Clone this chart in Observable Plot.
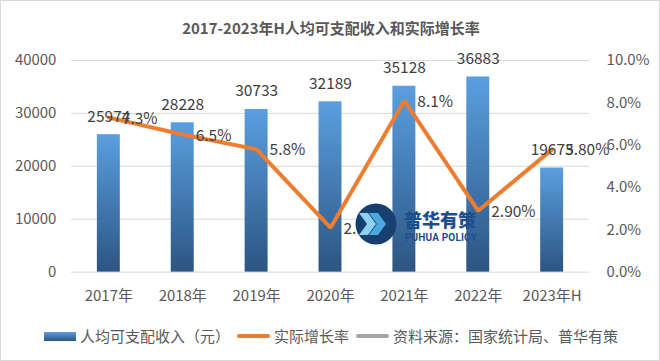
<!DOCTYPE html>
<html><head><meta charset="utf-8">
<script src="https://cdn.jsdelivr.net/npm/d3@7"></script>
<script src="https://cdn.jsdelivr.net/npm/@observablehq/plot@0.6"></script>
<style>
html,body{margin:0;padding:0;background:#fff;}
#wrap{position:relative;width:660px;height:361px;box-sizing:border-box;border:1px solid #D9D9D9;overflow:hidden;font-family:"Noto Sans CJK SC","Noto Sans",sans-serif;}
#title{position:absolute;left:0;top:17px;width:660px;text-align:center;font-size:15px;font-weight:bold;color:#595959;line-height:20px;}
#chart{position:absolute;left:-1px;top:44px;}
#legend{position:absolute;left:43px;top:324px;display:flex;align-items:center;font-size:15px;color:#595959;line-height:22px;white-space:nowrap;}
#legend .sw{display:inline-block;margin-right:4px;}
#legend .item{display:flex;align-items:center;margin-right:7px;}
#wm{position:absolute;left:0;top:0;pointer-events:none;}
</style></head>
<body><div id="wrap">
<div id="title">2017-2023年H人均可支配收入和实际增长率</div>
<div id="chart"></div>
<div id="legend"></div>
</div>
<script>
const years = ["2017年","2018年","2019年","2020年","2021年","2022年","2023年H"];
const income = [25974,28228,30733,32189,35128,36883,19673];
const rate = [7.3,6.5,5.8,2.1,8.1,2.9,5.8];
const rateLabels = ["7.3%","6.5%","5.8%","2.1%","8.1%","2.90%","5.80%"];
const incomeTicks = [0,10000,20000,30000,40000];
const rateTicks = [0,2,4,6,8,10];
const seriesNames = ["人均可支配收入（元）","实际增长率","资料来源：国家统计局、普华有策"];
const seriesColors = ["#3F78B4","#ED7D31","#A5A5A5"];

const k = 40000 / 10; // right-axis percent -> left-axis units
const data = years.map((y,i)=>({year:y, income:income[i], rate:rate[i], rl:rateLabels[i], ry:rate[i]*k}));
const font = '"Noto Sans CJK SC","Noto Sans",sans-serif';

const svg = Plot.plot({
  width:660, height:272,
  marginTop:15, marginBottom:45, marginLeft:71, marginRight:70,
  style:{fontFamily:font, fontSize:"15px", color:"#595959", background:"transparent", overflow:"visible"},
  x:{domain:years, paddingInner:0.69, paddingOuter:0.345, label:null},
  y:{domain:[0,40000], label:null},
  marks:[
    Plot.gridY(incomeTicks,{stroke:"#D9D9D9", strokeOpacity:1, strokeWidth:1}),
    Plot.axisY(incomeTicks,{anchor:"left", tickSize:0, tickPadding:15, label:null, tickFormat:d=>String(d), fill:"#595959"}),
    Plot.axisY(rateTicks.map(r=>r*k),{anchor:"right", tickSize:0, tickPadding:17, label:null, tickFormat:d=>(d/k).toFixed(1)+"%", fill:"#595959"}),
    Plot.axisX({tickSize:0, tickPadding:18, label:null, fill:"#595959"}),
    Plot.barY(data,{x:"year", y:"income", fill:"url(#barGrad)"}),
    Plot.line(data,{x:"year", y:"ry", stroke:"#ED7D31", strokeWidth:4, strokeLinejoin:"miter"}),
    Plot.text(data,{x:"year", y:"income", text:d=>String(d.income), dy:-18, fill:"#404040", fontSize:15.5}),
    Plot.text(data,{x:"year", y:"ry", text:"rl", textAnchor:"start", dx:13, dy:1, fill:"#404040", fontSize:15.5})
  ]
});
const defs = d3.select(svg).insert("defs",":first-child");
const g = defs.append("linearGradient").attr("id","barGrad").attr("x1",0).attr("y1",0).attr("x2",0).attr("y2",1);
g.append("stop").attr("offset","0%").attr("stop-color","#5A9FE0");
g.append("stop").attr("offset","100%").attr("stop-color","#2C5582");
document.getElementById("chart").appendChild(svg);

// legend
const lg = document.getElementById("legend");
seriesNames.forEach((n,i)=>{
  const it = document.createElement("div"); it.className="item";
  const sw = document.createElement("span"); sw.className="sw";
  if(i===0){ sw.style.cssText="width:32px;height:9px;background:linear-gradient(#5A9FE0,#2C5582);"; }
  else { sw.style.cssText=`width:33px;height:4px;border-radius:2px;background:${seriesColors[i]};`; }
  it.appendChild(sw);
  const t=document.createElement("span"); t.textContent=n; it.appendChild(t);
  lg.appendChild(it);
});

// watermark (decoration)
const wm = d3.select("#wrap").append("svg").attr("id","wm").attr("width",660).attr("height",361);
wm.append("circle").attr("cx",375).attr("cy",223).attr("r",20.5).attr("fill","#17406F");
[[-9,"#8FD0F2"],[1,"#4BA8E0"]].forEach(([dx,c])=>{
  wm.append("path").attr("d",`M${372+dx-5},212 L${372+dx+4},212 L${372+dx+12},223 L${372+dx+4},234 L${372+dx-5},234 L${372+dx+3},223 Z`).attr("fill",c);
});
wm.append("text").attr("x",403).attr("y",226).attr("font-size",18).attr("font-weight",900).attr("fill","#1E4F8D").attr("font-family",font).text("普华有策");
wm.append("text").attr("x",404).attr("y",240).attr("font-size",10).attr("font-weight",700).attr("fill","#1E4F8D").attr("font-family","Roboto,Arial,sans-serif").attr("textLength",72).text("PUHUA POLICY");
</script>
</body></html>
